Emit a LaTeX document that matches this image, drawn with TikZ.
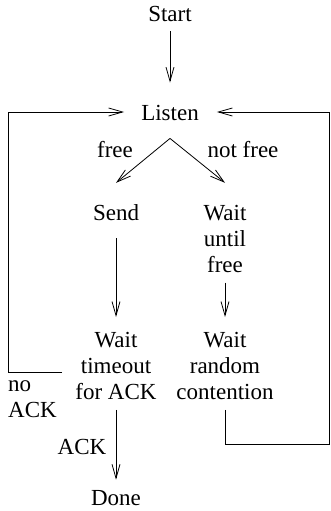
\documentclass[tikz,border=0pt]{standalone}
\usepackage{fontspec}
\setmainfont{Liberation Serif}
\usetikzlibrary{arrows.meta}
\begin{document}
\begin{tikzpicture}[x=1pt,y=1pt,
  lbl/.style={inner sep=0pt, font=\fontsize{23}{26}\selectfont},
  multi/.style={lbl, align=center, anchor=north},
  arr/.style={-{Straight Barb[length=14pt,width=8pt]}, line width=0.8pt},
  conn/.style={line width=0.8pt}]
\useasboundingbox (0,0) rectangle (330,-511);
% nodes
\node[lbl, anchor=base] (start) at (170,-22) {Start};
\node[lbl, anchor=base] (listen) at (170,-120) {Listen};
\node[lbl, anchor=base] (send) at (116,-220) {Send};
\node[multi] (wuf) at (225,-204.8) {Wait\\until\\free};
\node[multi] (wt) at (116,-332) {Wait\\timeout\\for ACK};
\node[multi] (wr) at (225,-332) {Wait\\random\\contention};
\node[lbl, anchor=base] (done) at (116,-505) {Done};
% labels
\node[lbl, anchor=base] (free) at (115,-157) {free};
\node[lbl, anchor=base] (notfree) at (243,-157) {not free};
\node[lbl, align=left, anchor=north west] (noack) at (8,-380.4) {no\\ACK};
\node[lbl, anchor=base] (ack) at (82,-454) {ACK};
% corner coordinates
\coordinate (bl) at (8,-372);
\coordinate (tl) at (8,-112);
\coordinate (br) at (329,-444);
\coordinate (tr) at (329,-112);
% connectors
\draw[arr] ([yshift=-9pt]start.south) -- ([yshift=22pt]listen.north);
\draw[arr] ([yshift=-18pt]listen.south) -- ([yshift=21pt]send.north);
\draw[arr] ([yshift=-18pt]listen.south) -- ([yshift=22pt]wuf.north);
\draw[arr] ([yshift=-18pt]send.south) -- ([yshift=15pt]wt.north);
\draw[arr] ([yshift=-10pt]wuf.south) -- ([yshift=15pt]wr.north);
\draw[arr] ([yshift=-10pt]wt.south) -- ([yshift=10pt]done.north);
\draw[arr] ([xshift=-13pt]wt.west |- bl) -- (bl) -- (tl) -- ([xshift=-17pt]listen.west |- tl);
\draw[arr] ([yshift=-10pt]wr.south) -- (wr.south |- br) -- (br) -- (tr) -- ([xshift=18pt]listen.east |- tr);
\end{tikzpicture}
\end{document}
